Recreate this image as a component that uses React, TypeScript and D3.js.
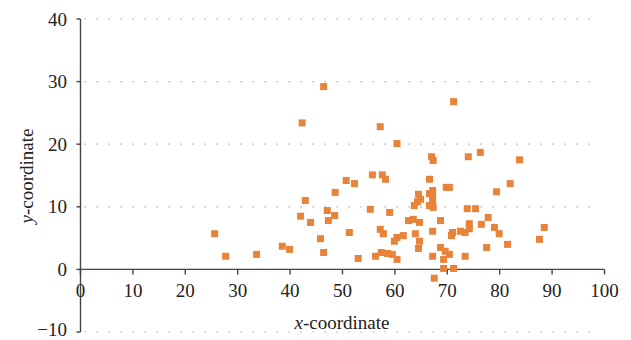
import * as d3 from 'd3'
import React from 'react';

// point coordinates
const xValues = [
    46.4, 42.3, 57.2, 60.4, 55.7, 57.6, 58.2, 50.7, 52.3, 48.6,
    42.9, 55.3, 47.1, 59.0, 42.0, 48.5, 47.3, 43.9, 25.6, 51.3,
    57.2, 57.8, 60.4, 59.9, 45.8, 38.5, 39.9, 33.6, 27.7, 46.4,
    53.0, 56.3, 57.4, 58.6, 59.5, 60.4, 71.2, 67.0, 67.3, 74.0,
    76.3, 83.8, 66.6, 82.0, 79.4, 69.8, 70.4, 67.2, 66.6, 64.5,
    67.2, 64.9, 64.3, 67.2, 63.7, 66.6, 67.3, 73.8, 75.4, 77.8,
    62.6, 63.5, 64.7, 68.7, 74.2, 74.2, 76.5, 79.0, 88.5, 79.9,
    61.6, 63.9, 67.2, 71.0, 70.8, 72.5, 73.4, 64.7, 64.5, 68.7,
    69.6, 70.4, 77.5, 81.5, 87.6, 67.2, 69.3, 73.4, 69.3, 71.2,
    67.5,
]
const yValues = [
    29.2, 23.4, 22.8, 20.1, 15.1, 15.1, 14.4, 14.2, 13.7, 12.3,
    11.0, 9.6, 9.4, 9.1, 8.5, 8.6, 7.8, 7.5, 5.7, 5.9,
    6.4, 5.7, 5.1, 4.5, 4.9, 3.7, 3.2, 2.4, 2.1, 2.7,
    1.75, 2.1, 2.7, 2.55, 2.4, 1.6, 26.8, 18.0, 17.4, 18.0,
    18.7, 17.5, 14.4, 13.7, 12.4, 13.1, 13.1, 12.6, 12.1, 12.0,
    11.6, 11.2, 10.8, 10.8, 10.2, 10.2, 9.9, 9.7, 9.7, 8.3,
    7.8, 8.0, 7.5, 7.8, 7.3, 6.5, 7.2, 6.7, 6.7, 5.7,
    5.4, 5.7, 6.1, 5.9, 5.4, 6.1, 5.9, 4.5, 3.35, 3.5,
    2.9, 2.4, 3.5, 4.0, 4.8, 2.1, 1.6, 2.1, 0.15, 0.15,
    -1.4,
]
const xTicks = [0, 10, 20, 30, 40, 50, 60, 70, 80, 90, 100]
const yTicks = [-10, 0, 10, 20, 30, 40]

const W = 631, H = 340
const font = '"Liberation Serif", "DejaVu Serif", serif'
const axisColor = '#444'
const dotColor = '#E8833A'

const App = () => {
    const x = d3.scaleLinear().domain([0, 100]).range([80.5, 604.5])
    const y = d3.scaleLinear().domain([-10, 40]).range([332, 19])
    const s = 7
    return (
        <svg width={W} height={H} style={{ position: 'fixed', left: 0, top: 0 }} fontFamily={font}>
            <rect width={W} height={H} fill="#fff" />
            {/* dotted gridlines */}
            {yTicks.filter(t => t !== 0).map(t => (
                <line key={'g' + t} x1={x(0) + 4} x2={600} y1={y(t)} y2={y(t)}
                    stroke="#999" strokeWidth={1.2} strokeDasharray="1.2 10.8" />
            ))}
            {/* y axis */}
            <line x1={x(0)} x2={x(0)} y1={y(40)} y2={y(-10)} stroke={axisColor} strokeWidth={1.4} />
            {yTicks.map(t => (
                <g key={'y' + t}>
                    <line x1={x(0) - 4} x2={x(0)} y1={y(t)} y2={y(t)} stroke={axisColor} strokeWidth={1.4} />
                    <text x={67} y={Math.min(y(t) + 6.5, 336)} textAnchor="end" fontSize={19} fill="#222">
                        {t < 0 ? '\u2212' + Math.abs(t) : t}
                    </text>
                </g>
            ))}
            {/* x axis */}
            <line x1={x(0)} x2={x(100)} y1={y(0)} y2={y(0)} stroke={axisColor} strokeWidth={1.4} />
            {xTicks.map(t => (
                <g key={'x' + t}>
                    <line x1={x(t)} x2={x(t)} y1={y(0)} y2={y(0) + 5} stroke={axisColor} strokeWidth={1.4} />
                    <text x={x(t)} y={297} textAnchor="middle" fontSize={19} fill="#222">{t}</text>
                </g>
            ))}
            {/* points */}
            {xValues.map((v, i) => (
                <rect key={'p' + i} x={x(v) - s / 2} y={y(yValues[i]) - s / 2} width={s} height={s} fill={dotColor} />
            ))}
            {/* axis titles */}
            <text x={342} y={329} textAnchor="middle" fontSize={19} fill="#222">
                <tspan fontStyle="italic">x</tspan>-coordinate
            </text>
            <text transform={`translate(33 176) rotate(-90)`} textAnchor="middle" fontSize={19} fill="#222">
                <tspan fontStyle="italic">y</tspan>-coordinate
            </text>
        </svg>
    )
}

export default App
